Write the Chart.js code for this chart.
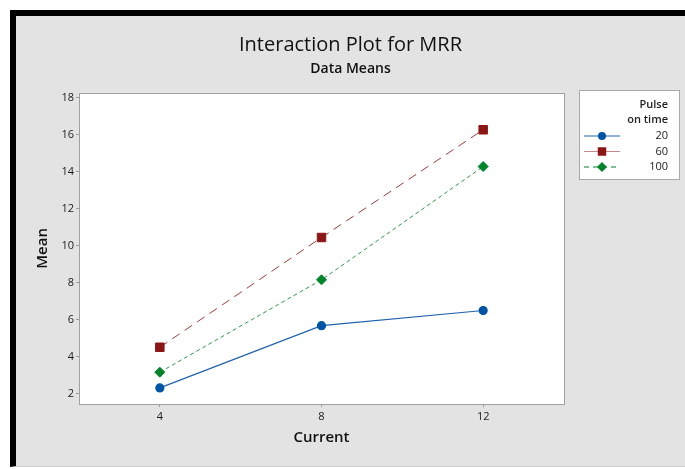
<!DOCTYPE html>
<html>
<head>
<meta charset="utf-8">
<script src="https://cdn.jsdelivr.net/npm/chart.js@4"></script>
<style>
body { margin: 0; background: #fff; }
#frame {
    position: absolute; left: 10px; top: 10px; width: 675px; height: 457px;
    box-sizing: border-box; border-top: 6px solid #000; border-left: 6px solid #000;
    border-bottom: 1px solid #cfcfcf; background: #e3e3e3;
}
#wrap { position: relative; width: 669px; height: 450px; }
</style>
</head>
<body>
<div id="frame"><div id="wrap"><canvas id="mrrChart"></canvas></div></div>
<script>
const currents = [4, 8, 12];
const pulseOnTimes = ['20', '60', '100'];
const mean20 = [2.3, 5.67, 6.49];
const mean60 = [4.5, 10.44, 16.27];
const mean100 = [3.15, 8.15, 14.28];
const xTicks = [4, 8, 12];
const yTicks = [2, 4, 6, 8, 10, 12, 14, 16, 18];
const legendTitle = ['Pulse', 'on time'];

const FONT = '"Open Sans", "Noto Sans", sans-serif';
const toPoints = vals => currents.map((x, i) => ({ x: x, y: vals[i] }));

// white plot area with a grey frame
const plotFrame = {
    id: 'plotFrame',
    beforeDatasetsDraw(chart) {
        const { ctx, chartArea: a } = chart;
        ctx.save();
        ctx.fillStyle = '#fff';
        ctx.fillRect(a.left, a.top, a.right - a.left, a.bottom - a.top);
        ctx.strokeStyle = '#a0a0a0';
        ctx.lineWidth = 1;
        ctx.strokeRect(Math.round(a.left) + 0.5, Math.round(a.top) + 0.5,
            Math.round(a.right - a.left), Math.round(a.bottom - a.top));
        ctx.restore();
    }
};

// minitab style legend box on the right
const pulseLegend = {
    id: 'pulseLegend',
    afterDraw(chart) {
        const ctx = chart.ctx;
        const bx = 563, by = 74, bw = 100, bh = 89;
        ctx.save();
        ctx.fillStyle = '#fff';
        ctx.fillRect(bx, by, bw, bh);
        ctx.strokeStyle = '#a9a9a9';
        ctx.lineWidth = 1;
        ctx.strokeRect(bx + 0.5, by + 0.5, bw, bh);
        ctx.fillStyle = '#222';
        ctx.textAlign = 'right';
        ctx.textBaseline = 'middle';
        ctx.font = '600 11px ' + FONT;
        legendTitle.forEach((t, i) => ctx.fillText(t, 652, 89 + i * 14.5));
        ctx.font = '11px ' + FONT;
        chart.data.datasets.forEach((ds, i) => {
            const y = 120 + i * 15.5;
            ctx.strokeStyle = ds.legendLine;
            ctx.lineWidth = 1.2;
            ctx.setLineDash(ds.legendDash);
            ctx.beginPath();
            ctx.moveTo(568, y);
            ctx.lineTo(604, y);
            ctx.stroke();
            ctx.setLineDash([]);
            ctx.fillStyle = ds.pointBackgroundColor;
            const r = ds.pointRadius;
            ctx.beginPath();
            if (ds.pointStyle === 'circle') {
                ctx.arc(586, y, r, 0, Math.PI * 2);
            } else if (ds.pointStyle === 'rect') {
                const s = r * Math.SQRT1_2;
                ctx.rect(586 - s, y - s, 2 * s, 2 * s);
            } else {
                ctx.moveTo(586, y - r); ctx.lineTo(586 + r, y);
                ctx.lineTo(586, y + r); ctx.lineTo(586 - r, y);
                ctx.closePath();
            }
            ctx.fill();
            ctx.fillStyle = '#222';
            ctx.fillText(pulseOnTimes[i], 652, y);
        });
        ctx.restore();
    }
};

const ctx = document.getElementById('mrrChart').getContext('2d');
new Chart(ctx, {
    type: 'line',
    data: {
        datasets: [{
            label: pulseOnTimes[0],
            data: toPoints(mean20),
            borderColor: '#1f62b0',
            backgroundColor: '#0054a5',
            pointBackgroundColor: '#0054a5',
            pointBorderColor: '#0054a5',
            pointStyle: 'circle',
            pointRadius: 4,
            borderWidth: 1.2,
            legendLine: '#1f62b0',
            legendDash: []
        }, {
            label: pulseOnTimes[1],
            data: toPoints(mean60),
            borderColor: '#a83a3a',
            backgroundColor: '#8c1515',
            pointBackgroundColor: '#8c1515',
            pointBorderColor: '#8c1515',
            pointStyle: 'rect',
            pointRadius: 6,
            borderWidth: 1,
            borderDash: [9, 6],
            legendLine: '#c88888',
            legendDash: []
        }, {
            label: pulseOnTimes[2],
            data: toPoints(mean100),
            borderColor: '#2e9a4a',
            backgroundColor: '#00852a',
            pointBackgroundColor: '#00852a',
            pointBorderColor: '#00852a',
            pointStyle: 'rectRot',
            pointRadius: 5,
            borderWidth: 1,
            borderDash: [4, 3],
            legendLine: '#00852a',
            legendDash: [5, 4]
        }]
    },
    options: {
        responsive: true,
        maintainAspectRatio: false,
        animation: false,
        layout: { padding: 0 },
        plugins: {
            legend: { display: false },
            tooltip: { enabled: false },
            title: {
                display: true,
                text: 'Interaction Plot for MRR',
                color: '#111',
                font: { family: FONT, size: 20, weight: 'normal' },
                padding: { top: 17, bottom: 0 }
            },
            subtitle: {
                display: true,
                text: 'Data Means',
                color: '#111',
                font: { family: FONT, size: 14, weight: '600' },
                padding: { top: 4, bottom: 15 }
            }
        },
        scales: {
            x: {
                type: 'linear',
                min: 2,
                max: 14,
                afterBuildTicks: s => { s.ticks = xTicks.map(v => ({ value: v })); },
                afterFit: s => { s.height = 62; },
                grid: { drawOnChartArea: false, drawTicks: true, tickLength: 3, color: '#9a9a9a' },
                border: { display: false },
                ticks: { color: '#1a1a1a', padding: 3, font: { family: FONT, size: 11 } },
                title: {
                    display: true,
                    text: 'Current',
                    color: '#111',
                    font: { family: FONT, size: 15, weight: '600' },
                    padding: { top: 0, bottom: 19 }
                }
            },
            y: {
                type: 'linear',
                min: 1.43,
                max: 18.27,
                afterBuildTicks: s => { s.ticks = yTicks.map(v => ({ value: v })); },
                afterFit: s => { s.width = 63; },
                grid: { drawOnChartArea: false, drawTicks: true, tickLength: 3, color: '#9a9a9a' },
                border: { display: false },
                ticks: { color: '#1a1a1a', padding: 2, font: { family: FONT, size: 11 } },
                title: {
                    display: true,
                    text: 'Mean',
                    color: '#111',
                    font: { family: FONT, size: 15, weight: '600' },
                    padding: { top: 18, bottom: 0 }
                }
            },
            legendSpace: {
                type: 'linear',
                position: 'right',
                display: true,
                afterFit: s => { s.width = 121; },
                grid: { display: false },
                border: { display: false },
                ticks: { display: false }
            }
        }
    },
    plugins: [plotFrame, pulseLegend]
});
</script>
</body>
</html>
